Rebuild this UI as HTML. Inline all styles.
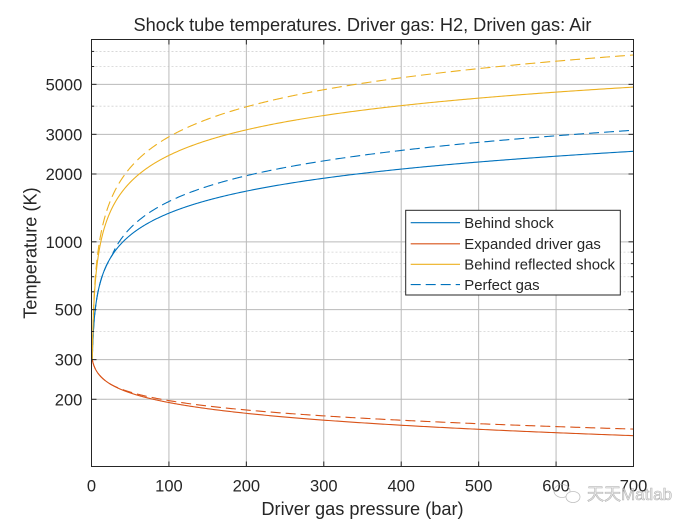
<!DOCTYPE html>
<html>
<head>
<meta charset="utf-8">
<style>
html,body{margin:0;padding:0;background:#fff;}
body{width:700px;height:525px;overflow:hidden;}
svg{display:block;}
text{font-family:"Liberation Sans","Noto Sans CJK SC",sans-serif;fill:#262626;}
</style>
</head>
<body>
<svg id="s" width="700" height="525" viewBox="0 0 700 525" xmlns="http://www.w3.org/2000/svg">
  <rect x="0" y="0" width="700" height="525" fill="#fff"/>
  <g id="grid"></g>
  <g id="curves" fill="none" stroke-width="1.1" stroke-linejoin="round"></g>
  <g id="axes"></g>
  <g id="labels"></g>

  <!-- title -->
  <text x="362.5" y="31" font-size="18.2" text-anchor="middle">Shock tube temperatures. Driver gas: H2, Driven gas: Air</text>
  <!-- x label -->
  <text x="362.5" y="515" font-size="18.2" text-anchor="middle">Driver gas pressure (bar)</text>
  <!-- y label -->
  <text transform="translate(36.5,253) rotate(-90)" x="0" y="0" font-size="18.2" text-anchor="middle">Temperature (K)</text>

  <!-- legend -->
  <g>
    <rect x="405.7" y="210.3" width="214.6" height="84.7" fill="#fff" stroke="#262626" stroke-width="1"/>
    <line x1="410.7" y1="222.7" x2="460" y2="222.7" stroke="#0072BD" stroke-width="1.1"/>
    <line x1="410.7" y1="243.8" x2="460" y2="243.8" stroke="#D95319" stroke-width="1.1"/>
    <line x1="410.7" y1="264.3" x2="460" y2="264.3" stroke="#EDB120" stroke-width="1.1"/>
    <line x1="410.7" y1="284.6" x2="460" y2="284.6" stroke="#0072BD" stroke-width="1.1" stroke-dasharray="10 5"/>
    <text x="464.3" y="228" font-size="14.9">Behind shock</text>
    <text x="464.3" y="249" font-size="14.9">Expanded driver gas</text>
    <text x="464.3" y="269.5" font-size="14.9">Behind reflected shock</text>
    <text x="464.3" y="290" font-size="14.9">Perfect gas</text>
  </g>

  <!-- watermark -->
  <g opacity="0.75">
    <ellipse cx="562" cy="491" rx="8" ry="6.5" fill="none" stroke="#aaa" stroke-width="0.8"/>
    <ellipse cx="573" cy="497" rx="7" ry="5.5" fill="#fff" stroke="#aaa" stroke-width="0.8"/>
    <text x="587" y="500" font-size="17" style="fill:#e8e8e8;stroke:#9a9a9a;stroke-width:0.6">天天Matlab</text>
  </g>
</svg>
<script>
(function(){
  var NS="http://www.w3.org/2000/svg";
  var L=91.5,R=633.5,T=39.5,B=466.5;
  function X(p){return L+p*(R-L)/700;}
  function Y(v){return 399.3-(Math.log10(v)-Math.log10(200))*225.3;}
  function el(tag,attrs,parent){var e=document.createElementNS(NS,tag);for(var k in attrs)e.setAttribute(k,attrs[k]);parent.appendChild(e);return e;}
  var grid=document.getElementById('grid'),axes=document.getElementById('axes'),labels=document.getElementById('labels'),curves=document.getElementById('curves');
  var majorY=[200,300,500,1000,2000,3000,5000];
  var minorY=[400,600,700,800,900,4000,6000,7000];
  var xt=[0,100,200,300,400,500,600,700];
  // minor grid
  minorY.forEach(function(v){var y=Y(v);el('line',{x1:L,x2:R,y1:y,y2:y,stroke:'#d2d2d2','stroke-width':0.8,'stroke-dasharray':'2 2'},grid);});
  // major grid
  majorY.forEach(function(v){var y=Y(v);el('line',{x1:L,x2:R,y1:y,y2:y,stroke:'#bababa','stroke-width':1},grid);});
  xt.forEach(function(p){if(p>0&&p<700){var x=X(p);el('line',{x1:x,x2:x,y1:T,y2:B,stroke:'#bababa','stroke-width':1},grid);}});
  // curves
  function path(f,color,dash){
    var d='';
    for(var i=0;i<=500;i++){
      var p=1+699*Math.pow(i/500,2.5);
      var v=f(p);
      d+=(i?'L':'M')+X(p).toFixed(2)+','+Y(v).toFixed(2);
    }
    var a={d:d,stroke:color};
    if(dash)a['stroke-dasharray']='10 5';
    el('path',a,curves);
  }
  function bs(p){var l=Math.log(p);return 300*Math.exp(0.325*l);}
  function bd(p){var l=Math.log(p);var r=l>3.3?1+0.24*Math.pow((l-3.3)/3.25,0.7):1;return bs(p)*r;}
  function ys(p){var l=Math.log(p);return 300*Math.exp(0.5197*l-0.01443*l*l);}
  function yd(p){var l=Math.log(p);return Math.max(300*Math.exp(0.54*l-0.00988*l*l),ys(p));}
  function os(p){var l=Math.log(p);return 300*Math.exp(-(0.04*l+0.012*l*l));}
  function od(p){var l=Math.log(p);return Math.max(300*Math.exp(-(0.0498*l+0.00894*l*l)),os(p));}
  path(bs,'#0072BD',false);
  path(os,'#D95319',false);
  path(ys,'#EDB120',false);
  path(bd,'#0072BD',true);
  path(od,'#D95319',true);
  path(yd,'#EDB120',true);
  // axes box
  el('rect',{x:L,y:T,width:R-L,height:B-T,fill:'none',stroke:'#262626','stroke-width':1},axes);
  // ticks
  majorY.forEach(function(v){var y=Y(v);
    el('line',{x1:L,x2:L+5,y1:y,y2:y,stroke:'#262626','stroke-width':1},axes);
    el('line',{x1:R,x2:R-5,y1:y,y2:y,stroke:'#262626','stroke-width':1},axes);
    var t=el('text',{x:82.3,y:(y+6).toFixed(1),'font-size':16.5,'text-anchor':'end'},labels);t.textContent=String(v);
  });
  minorY.forEach(function(v){var y=Y(v);
    el('line',{x1:L,x2:L+2.7,y1:y,y2:y,stroke:'#262626','stroke-width':1},axes);
    el('line',{x1:R,x2:R-2.7,y1:y,y2:y,stroke:'#262626','stroke-width':1},axes);
  });
  xt.forEach(function(p){var x=X(p);
    el('line',{x1:x,x2:x,y1:B,y2:B-5,stroke:'#262626','stroke-width':1},axes);
    el('line',{x1:x,x2:x,y1:T,y2:T+5,stroke:'#262626','stroke-width':1},axes);
    var t=el('text',{x:x,y:491.7,'font-size':16.5,'text-anchor':'middle'},labels);t.textContent=String(p);
  });
})();
</script>
</body>
</html>
